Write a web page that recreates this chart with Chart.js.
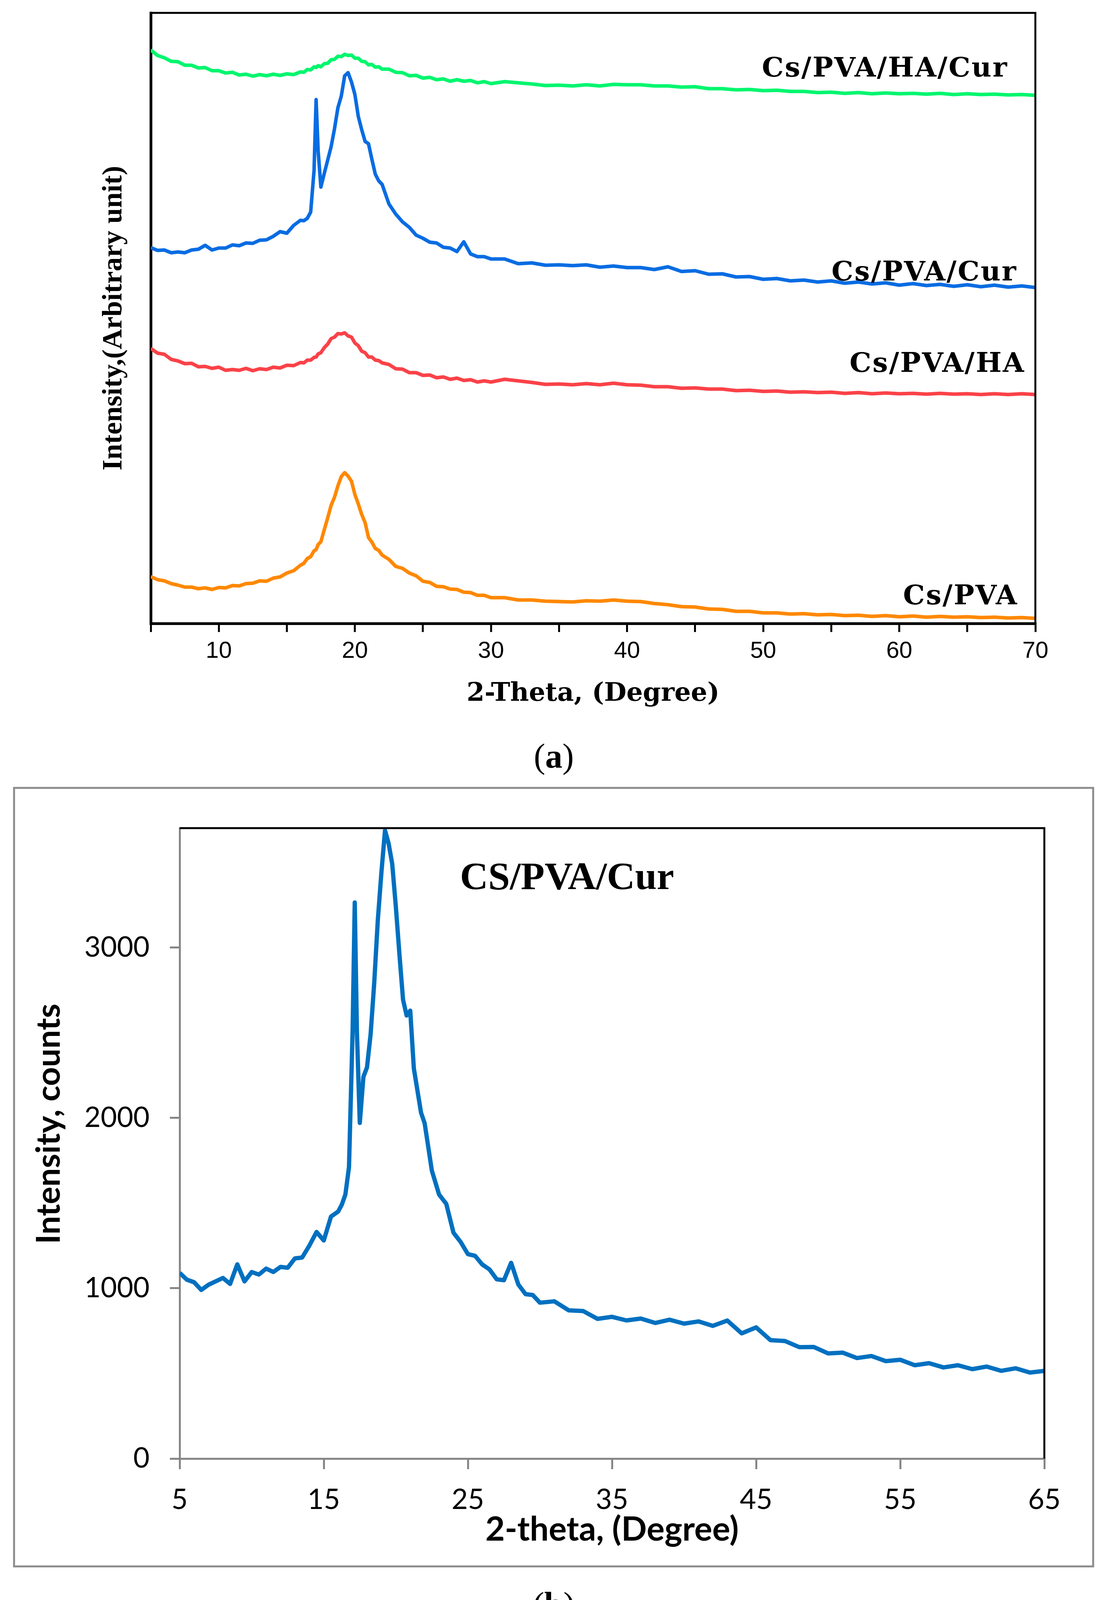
<!DOCTYPE html>
<html>
<head>
<meta charset="utf-8">
<script src="https://cdn.jsdelivr.net/npm/chart.js@4.4.1/dist/chart.umd.min.js"></script>
<style>
  html, body { margin: 0; padding: 0; background: #fff; }
  #wrap { position: relative; width: 2837px; height: 4190px; background: #fff; }
  canvas { position: absolute; left: 0; }
  #chartA { top: 0; width: 2837px; height: 1880px; }
  #chartB { top: 1880px; width: 2837px; height: 2310px; }
</style>
</head>
<body>
<div id="wrap">
  <canvas id="chartA" width="2837" height="1880"></canvas>
  <canvas id="chartB" width="2837" height="2310"></canvas>
</div>
<script>
// --- (a) stacked XRD patterns, arbitrary offset units ---
const thetaTop = [5,5.5,6,6.5,7,7.5,8,8.5,9,9.5,10,10.5,11,11.5,12,12.5,13,13.5,14,14.5,15,15.5,16,
  16.25,16.5,16.75,17,17.15,17.3,17.5,17.75,18,18.25,18.5,18.75,19,19.25,19.5,19.75,20,20.25,20.5,20.75,21,21.25,21.5,21.75,22,
  22.5,23,23.5,24,24.5,25,25.5,26,26.5,27,27.5,28,28.5,29,29.5,30,
  31,32,33,34,35,36,37,38,39,40,41,42,43,44,45,46,47,48,49,50,51,52,53,54,55,56,57,58,59,60,61,62,63,64,65,66,67,68,69,70];

const csPva = [120,112,109,102,98,93,93,89,91,87,92,91,97,96,102,103,109,108,116,119,129,135,149,
  154,166,171,186,189,202,209,240,270,302,323,352,376,386,377,364,330,306,279,258,220,208,192,187,175,
  164,146,141,129,122,108,105,95,94,88,87,80,79,72,72,66,
  66,60,60,57,56,55,58,57,60,57,56,51,48,43,42,37,36,31,31,27,27,24,25,22,23,20,21,18,20,17,19,16,18,16,17,15,16,14,15,13];

const csPvaHa = [704,692,689,676,672,665,666,657,658,653,656,648,650,648,653,647,652,650,656,654,661,660,668,
  667,674,674,681,682,690,693,706,715,729,733,742,741,744,736,733,718,711,697,693,682,682,674,673,667,
  663,652,651,642,642,635,636,629,631,625,628,622,624,618,621,618,
  625,621,617,612,613,611,614,611,615,611,610,606,606,602,603,600,600,596,597,594,595,592,593,591,592,589,591,588,590,588,589,587,589,587,588,586,588,586,588,586];

const csPvaCur = [962,955,956,949,951,949,956,958,968,956,961,961,969,967,974,973,981,982,991,1003,999,1019,1032,
  1031,1037,1053,1160,1341,1210,1117,1152,1186,1220,1266,1320,1350,1402,1410,1386,1354,1298,1264,1234,1228,1188,1150,1133,1124,
  1074,1048,1028,1014,994,986,976,974,963,961,952,977,946,939,939,933,
  933,921,923,917,918,916,918,912,915,911,911,906,913,901,903,894,895,887,888,881,883,877,879,874,877,871,874,869,872,866,870,865,868,863,867,862,866,861,864,860];

const csPvaHaCur = [1468,1454,1448,1439,1438,1429,1429,1422,1423,1415,1415,1409,1411,1404,1406,1401,1405,1402,1406,1403,1407,1405,1412,
  1411,1418,1417,1425,1423,1428,1425,1433,1434,1443,1444,1452,1451,1457,1454,1455,1447,1447,1439,1438,1430,1431,1424,1425,1419,
  1419,1411,1410,1402,1403,1396,1398,1392,1394,1388,1392,1388,1390,1384,1387,1382,
  1387,1384,1381,1377,1378,1376,1379,1376,1380,1379,1379,1376,1376,1373,1374,1369,1369,1366,1367,1364,1365,1362,1362,1359,1360,1357,1359,1356,1358,1356,1357,1355,1357,1354,1356,1354,1355,1353,1354,1352];

const topNames = ['Cs/PVA/HA/Cur', 'Cs/PVA/Cur', 'Cs/PVA/HA', 'Cs/PVA'];
const topNameX = [68.0, 68.67, 69.25, 68.73];
const topNameY = [1400, 878, 644, 49];

// --- (b) CS/PVA/Cur in counts ---
const thetaB = [5,5.5,6,6.5,7,7.5,8,8.5,9,9.5,10,10.5,11,11.5,12,12.5,13,13.5,14,14.5,15,15.5,16,
  16.25,16.5,16.75,17,17.15,17.3,17.5,17.75,18,18.25,18.5,18.75,19,19.25,19.5,19.75,20,20.25,20.5,20.75,21,21.25,21.5,21.75,22,
  22.5,23,23.5,24,24.5,25,25.5,26,26.5,27,27.5,28,28.5,29,29.5,30,
  31,32,33,34,35,36,37,38,39,40,41,42,43,44,45,46,47,48,49,50,51,52,53,54,55,56,57,58,59,60,61,62,63,64,65];

const countsB = [1090,1050,1035,990,1020,1040,1060,1025,1140,1040,1095,1080,1115,1095,1125,1120,1175,1180,1250,1330,1280,1420,1450,
  1490,1550,1710,2505,3264,2505,1970,2240,2296,2490,2790,3160,3440,3687,3610,3490,3240,2960,2694,2600,2629,2290,2160,2030,1968,
  1690,1550,1495,1326,1271,1200,1190,1139,1110,1052,1047,1149,1022,965,960,915,
  923,870,866,820,832,811,822,796,815,792,805,779,810,735,770,695,690,654,655,617,622,590,602,572,580,548,560,535,548,525,540,515,530,505,515];

const yTicksB = [0, 1000, 2000, 3000];

const pts = (xs, ys) => xs.map((x, i) => ({ x: x, y: ys[i] }));

// --- plugins ---
const topDecor = {
  id: 'topDecor',
  afterDraw(chart) {
    const { ctx, chartArea: a, scales: { x, y } } = chart;
    ctx.save();
    ctx.strokeStyle = '#000';
    ctx.lineWidth = 5;
    ctx.beginPath();
    ctx.moveTo(a.left - 3, a.top);
    ctx.lineTo(a.right, a.top);
    ctx.lineTo(a.right, a.bottom + 3);
    ctx.stroke();
    ctx.fillStyle = '#000';
    ctx.font = 'bold 70px "DejaVu Serif"';
    ctx.letterSpacing = '3px';
    ctx.textAlign = 'right';
    ctx.textBaseline = 'alphabetic';
    topNames.forEach((n, i) => {
      ctx.fillText(n, x.getPixelForValue(topNameX[i]), y.getPixelForValue(topNameY[i]));
    });
    ctx.restore();
  }
};

function panelLetter(ctx, letter, cx, baseY) {
  const reg = '88px "Liberation Serif"';
  const bold = 'bold 88px "Liberation Serif"';
  ctx.font = reg;
  const wp = ctx.measureText('(').width;
  const wq = ctx.measureText(')').width;
  ctx.font = bold;
  const wl = ctx.measureText(letter).width;
  let x = cx - (wp + wl + wq) / 2;
  ctx.textAlign = 'left';
  ctx.textBaseline = 'alphabetic';
  ctx.font = reg; ctx.fillText('(', x, baseY); x += wp;
  ctx.font = bold; ctx.fillText(letter, x, baseY); x += wl;
  ctx.font = reg; ctx.fillText(')', x, baseY);
}

const bottomDecor = {
  id: 'bottomDecor',
  afterDraw(chart) {
    const { ctx, chartArea: a, scales: { x, y } } = chart;
    ctx.save();
    ctx.strokeStyle = '#000';
    ctx.lineWidth = 5;
    ctx.beginPath();
    ctx.moveTo(a.left, a.top);
    ctx.lineTo(a.right, a.top);
    ctx.lineTo(a.right, a.bottom);
    ctx.stroke();
    // outer frame
    ctx.strokeStyle = '#8c8c8c';
    ctx.lineWidth = 5;
    ctx.strokeRect(36, 137, 2763, 1993);
    ctx.fillStyle = '#000';
    ctx.font = 'bold 100px "Liberation Serif"';
    ctx.textAlign = 'left';
    ctx.textBaseline = 'alphabetic';
    ctx.fillText('CS/PVA/Cur', x.getPixelForValue(24.45), y.getPixelForValue(3343));
    // y axis title
    ctx.save();
    ctx.translate(126, 997);
    ctx.rotate(-Math.PI / 2);
    ctx.font = 'bold 84px Lato';
    ctx.textAlign = 'center';
    ctx.textBaseline = 'middle';
    ctx.fillText('Intensity, counts', 0, 0);
    ctx.restore();
    panelLetter(ctx, 'a', 1418, 85);
    panelLetter(ctx, 'b', 1418, 2257);
    ctx.restore();
  }
};

// --- chart (a) ---
new Chart(document.getElementById('chartA'), {
  type: 'line',
  data: {
    datasets: [
      { label: 'Cs/PVA', data: pts(thetaTop, csPva), borderColor: 'rgb(255,136,0)' },
      { label: 'Cs/PVA/HA', data: pts(thetaTop, csPvaHa), borderColor: 'rgb(250,66,72)' },
      { label: 'Cs/PVA/Cur', data: pts(thetaTop, csPvaCur), borderColor: 'rgb(8,108,226)' },
      { label: 'Cs/PVA/HA/Cur', data: pts(thetaTop, csPvaHaCur), borderColor: 'rgb(0,246,110)' }
    ]
  },
  options: {
    responsive: false,
    animation: false,
    devicePixelRatio: 1,
    layout: { padding: { left: 0, top: 33, right: 186, bottom: 0 } },
    plugins: { legend: { display: false }, tooltip: { enabled: false } },
    elements: { point: { radius: 0 }, line: { borderWidth: 9, tension: 0, borderJoinStyle: 'round' } },
    scales: {
      x: {
        type: 'linear', min: 5, max: 70,
        afterFit: s => { s.height = 284; },
        ticks: {
          stepSize: 5, autoSkip: false, maxRotation: 0, padding: 13, color: '#000',
          font: { family: '"Liberation Sans", Arial', size: 60 },
          callback: v => (v % 10 === 0 ? String(v) : '')
        },
        grid: { drawOnChartArea: false, drawTicks: true, tickLength: 22, color: '#000', lineWidth: 5 },
        border: { color: '#000', width: 7 },
        title: {
          display: true, text: '2-Theta, (Degree)', color: '#000',
          font: { family: '"DejaVu Serif"', weight: 'bold', size: 66 },
          padding: { top: 0, bottom: 64 }
        }
      },
      y: {
        type: 'linear', min: 0, max: 1563,
        afterFit: s => { s.width = 386; },
        ticks: { display: false },
        grid: { display: false },
        border: { color: '#000', width: 7 },
        title: {
          display: true, text: 'Intensity,(Arbitrary unit)', color: '#000',
          font: { family: '"Liberation Serif"', weight: 'bold', size: 72 },
          padding: { top: 249, bottom: 0 }
        }
      }
    }
  },
  plugins: [topDecor]
});

// --- chart (b) ---
new Chart(document.getElementById('chartB'), {
  type: 'line',
  data: {
    datasets: [
      { label: 'CS/PVA/Cur', data: pts(thetaB, countsB), borderColor: '#0070C0', borderWidth: 11 }
    ]
  },
  options: {
    responsive: false,
    animation: false,
    devicePixelRatio: 1,
    layout: { padding: { left: 0, top: 240, right: 163, bottom: 0 } },
    plugins: { legend: { display: false }, tooltip: { enabled: false } },
    elements: { point: { radius: 0 }, line: { tension: 0, borderJoinStyle: 'round' } },
    scales: {
      x: {
        type: 'linear', min: 5, max: 65,
        afterFit: s => { s.height = 456; },
        ticks: {
          stepSize: 10, autoSkip: false, maxRotation: 0, padding: 36, color: '#000',
          font: { family: 'Lato', size: 72 },
          callback: v => String(v)
        },
        grid: { drawOnChartArea: false, drawTicks: true, tickLength: 27, color: '#868686', lineWidth: 5 },
        border: { color: '#868686', width: 5 },
        title: {
          display: true, text: '2-theta, (Degree)', color: '#000',
          font: { family: 'Lato', weight: 'bold', size: 86 },
          padding: { top: 0, bottom: 222 }
        }
      },
      y: {
        type: 'linear', min: 0, max: 3700,
        afterFit: s => { s.width = 460; },
        afterBuildTicks: s => { s.ticks = yTicksB.map(v => ({ value: v })); },
        ticks: {
          padding: 52, color: '#000',
          font: { family: 'Lato', size: 72 },
          callback: v => String(v)
        },
        grid: { drawOnChartArea: false, drawTicks: true, tickLength: 25, color: '#868686', lineWidth: 5 },
        border: { color: '#868686', width: 5 }
      }
    }
  },
  plugins: [bottomDecor]
});
</script>
</body>
</html>
